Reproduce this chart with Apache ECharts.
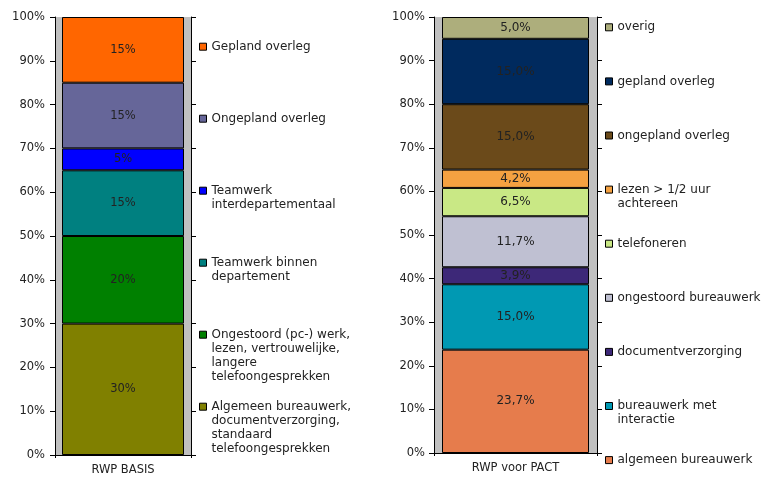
<!DOCTYPE html>
<html>
<head>
<meta charset="utf-8">
<script src="https://cdn.jsdelivr.net/npm/echarts@6/dist/echarts.min.js"></script>
<style>
html,body{margin:0;padding:0;background:#fff;}
#chart{width:763px;height:477px;}
</style>
</head>
<body>
<div id="chart"></div>
<script>
// ---- data ----
const leftCategories = ['RWP BASIS'];
const leftSeriesNames = [
  'Algemeen bureauwerk,\ndocumentverzorging,\nstandaard\ntelefoongesprekken',
  'Ongestoord (pc-) werk,\nlezen, vertrouwelijke,\nlangere\ntelefoongesprekken',
  'Teamwerk binnen\ndepartement',
  'Teamwerk\ninterdepartementaal',
  'Ongepland overleg',
  'Gepland overleg'
];
const leftValues = [30, 20, 15, 5, 15, 15];

const rightCategories = ['RWP voor PACT'];
const rightSeriesNames = [
  'algemeen bureauwerk',
  'bureauwerk met\ninteractie',
  'documentverzorging',
  'ongestoord bureauwerk',
  'telefoneren',
  'lezen > 1/2 uur\nachtereen',
  'ongepland overleg',
  'gepland overleg',
  'overig'
];
const rightValues = [23.7, 15.0, 3.9, 11.7, 6.5, 4.2, 15.0, 15.0, 5.0];

const yMin = 0, yMax = 100, yStep = 10;

// ---- styles ----
const leftColors = ['#808000', '#008000', '#008080', '#0000FF', '#666699', '#FF6600'];
const rightColors = ['#E67C4C', '#0099B3', '#3D2878', '#BFC0D2', '#C9E885', '#F4A141', '#6B4A1A', '#002A5E', '#ADAE7C'];
const FONT = 'DejaVu Sans';
const TXT = '#222';
const LH = 14;

function makeLegend(name, iconCenterY, left, fontSize) {
  const n = name.split('\n').length;
  return {
    data: [name], orient: 'vertical', left: left,
    top: iconCenterY - (2 * n - 1) * LH / 2,
    padding: 0, itemWidth: 7, itemHeight: 7, icon: 'rect', selectedMode: false,
    // leading blank lines keep the first text line level with the icon
    formatter: nm => '\n'.repeat(n - 1) + nm,
    itemStyle: {borderColor: '#000', borderWidth: 1},
    textStyle: {fontFamily: FONT, fontSize: fontSize, color: TXT, lineHeight: LH}
  };
}

const legends = [];
for (let i = 0; i < leftSeriesNames.length; i++) {
  const k = leftSeriesNames.length - 1 - i; // top item = last series
  legends.push(makeLegend(leftSeriesNames[k], 46.7 + i * 72, 199, 12));
}
for (let i = 0; i < rightSeriesNames.length; i++) {
  const k = rightSeriesNames.length - 1 - i;
  legends.push(makeLegend(rightSeriesNames[k], 27.3 + i * 54.1, 605, 12));
}

function yAxisDef(gridIndex, position, showLabels, margin) {
  return {
    type: 'value', gridIndex: gridIndex, position: position,
    min: yMin, max: yMax, interval: yStep,
    axisLine: {show: true, lineStyle: {color: '#000', width: 1}},
    axisTick: {show: true, length: 5, lineStyle: {color: '#000'}},
    splitLine: {show: false},
    axisLabel: {show: showLabels, formatter: '{value}%', fontFamily: FONT, fontSize: 11.5, color: TXT, margin: margin}
  };
}
function xAxisDef(gridIndex, cats) {
  return {
    type: 'category', gridIndex: gridIndex, data: cats,
    axisLine: {show: true, lineStyle: {color: '#000', width: 1}},
    axisTick: {show: true, length: 3, lineStyle: {color: '#000'}},
    axisLabel: {fontFamily: FONT, fontSize: 11.5, color: TXT, margin: 9}
  };
}

const series = [];
leftValues.forEach((v, i) => {
  series.push({
    type: 'bar', name: leftSeriesNames[i], stack: 'L', xAxisIndex: 0, yAxisIndex: 0,
    data: [v], barWidth: 122,
    itemStyle: {color: leftColors[i], borderColor: '#000', borderWidth: 1},
    label: {show: true, position: 'inside', fontFamily: FONT, fontSize: 11.5, color: TXT,
            formatter: p => p.value + '%'}
  });
});
rightValues.forEach((v, i) => {
  series.push({
    type: 'bar', name: rightSeriesNames[i], stack: 'R', xAxisIndex: 1, yAxisIndex: 2,
    data: [v], barWidth: 147,
    itemStyle: {color: rightColors[i], borderColor: '#000', borderWidth: 1},
    label: {show: true, position: 'inside', fontFamily: FONT, fontSize: 12, color: TXT,
            formatter: p => p.value.toFixed(1).replace('.', ',') + '%'}
  });
});

const chart = echarts.init(document.getElementById('chart'), null, {renderer: 'canvas'});
chart.setOption({
  animation: false,
  backgroundColor: '#fff',
  grid: [
    {left: 55, top: 17, width: 136, height: 438, show: true, backgroundColor: '#C0C0C0', borderWidth: 0},
    {left: 434, top: 17, width: 163, height: 436, show: true, backgroundColor: '#C0C0C0', borderWidth: 0}
  ],
  xAxis: [xAxisDef(0, leftCategories), xAxisDef(1, rightCategories)],
  yAxis: [
    yAxisDef(0, 'left', true, 10),
    yAxisDef(0, 'right', false, 8),
    yAxisDef(1, 'left', true, 9),
    yAxisDef(1, 'right', false, 8)
  ],
  legend: legends,
  series: series
});
</script>
</body>
</html>
